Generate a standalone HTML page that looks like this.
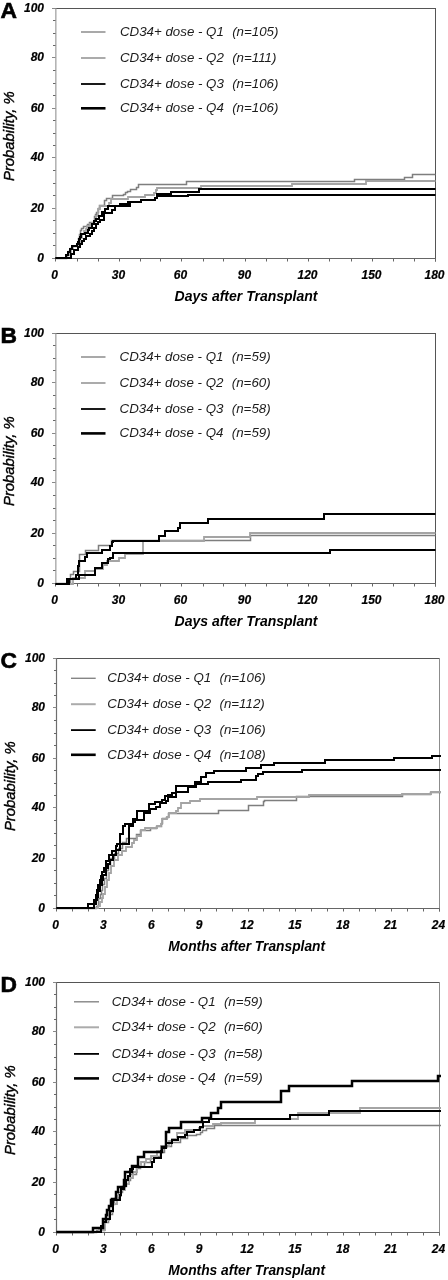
<!DOCTYPE html>
<html><head><meta charset="utf-8"><style>
html,body{margin:0;padding:0;background:#fff;width:448px;height:1280px;overflow:hidden}
svg{display:block;font-family:"Liberation Sans", sans-serif;fill:#000;filter:grayscale(1)}
text{font-family:"Liberation Sans", sans-serif}
</style></head><body>
<svg width="448" height="1280" viewBox="0 0 448 1280">
<rect width="448" height="1280" fill="#fff"/>
<g><line x1="52.0" y1="8.5" x2="435.5" y2="8.5" stroke="#555" stroke-width="1"/><line x1="435.5" y1="8.0" x2="435.5" y2="261.5" stroke="#555" stroke-width="1"/><line x1="55.8" y1="8.5" x2="55.8" y2="258.5" stroke="#b4b4b4" stroke-width="1.6"/><line x1="52.0" y1="258.5" x2="435.5" y2="258.5" stroke="#666" stroke-width="1"/><line x1="52.0" y1="258.5" x2="55.5" y2="258.5" stroke="#888" stroke-width="1"/><line x1="53.0" y1="245.5" x2="55.5" y2="245.5" stroke="#666" stroke-width="1"/><line x1="53.0" y1="233.5" x2="55.5" y2="233.5" stroke="#666" stroke-width="1"/><line x1="53.0" y1="220.5" x2="55.5" y2="220.5" stroke="#666" stroke-width="1"/><line x1="52.0" y1="208.5" x2="55.5" y2="208.5" stroke="#888" stroke-width="1"/><line x1="53.0" y1="195.5" x2="55.5" y2="195.5" stroke="#666" stroke-width="1"/><line x1="53.0" y1="183.5" x2="55.5" y2="183.5" stroke="#666" stroke-width="1"/><line x1="53.0" y1="170.5" x2="55.5" y2="170.5" stroke="#666" stroke-width="1"/><line x1="52.0" y1="157.5" x2="55.5" y2="157.5" stroke="#888" stroke-width="1"/><line x1="53.0" y1="145.5" x2="55.5" y2="145.5" stroke="#666" stroke-width="1"/><line x1="53.0" y1="133.5" x2="55.5" y2="133.5" stroke="#666" stroke-width="1"/><line x1="53.0" y1="120.5" x2="55.5" y2="120.5" stroke="#666" stroke-width="1"/><line x1="52.0" y1="108.5" x2="55.5" y2="108.5" stroke="#888" stroke-width="1"/><line x1="53.0" y1="95.5" x2="55.5" y2="95.5" stroke="#666" stroke-width="1"/><line x1="53.0" y1="83.5" x2="55.5" y2="83.5" stroke="#666" stroke-width="1"/><line x1="53.0" y1="70.5" x2="55.5" y2="70.5" stroke="#666" stroke-width="1"/><line x1="52.0" y1="57.5" x2="55.5" y2="57.5" stroke="#888" stroke-width="1"/><line x1="53.0" y1="45.5" x2="55.5" y2="45.5" stroke="#666" stroke-width="1"/><line x1="53.0" y1="33.5" x2="55.5" y2="33.5" stroke="#666" stroke-width="1"/><line x1="53.0" y1="20.5" x2="55.5" y2="20.5" stroke="#666" stroke-width="1"/><line x1="52.0" y1="8.5" x2="55.5" y2="8.5" stroke="#888" stroke-width="1"/><line x1="55.5" y1="258.5" x2="55.5" y2="261.5" stroke="#666" stroke-width="1"/><line x1="77.5" y1="258.5" x2="77.5" y2="261.5" stroke="#666" stroke-width="1"/><line x1="98.5" y1="258.5" x2="98.5" y2="261.5" stroke="#666" stroke-width="1"/><line x1="119.5" y1="258.5" x2="119.5" y2="261.5" stroke="#666" stroke-width="1"/><line x1="140.5" y1="258.5" x2="140.5" y2="261.5" stroke="#666" stroke-width="1"/><line x1="160.5" y1="258.5" x2="160.5" y2="261.5" stroke="#666" stroke-width="1"/><line x1="181.5" y1="258.5" x2="181.5" y2="261.5" stroke="#666" stroke-width="1"/><line x1="203.5" y1="258.5" x2="203.5" y2="261.5" stroke="#666" stroke-width="1"/><line x1="223.5" y1="258.5" x2="223.5" y2="261.5" stroke="#666" stroke-width="1"/><line x1="245.5" y1="258.5" x2="245.5" y2="261.5" stroke="#666" stroke-width="1"/><line x1="266.5" y1="258.5" x2="266.5" y2="261.5" stroke="#666" stroke-width="1"/><line x1="287.5" y1="258.5" x2="287.5" y2="261.5" stroke="#666" stroke-width="1"/><line x1="308.5" y1="258.5" x2="308.5" y2="261.5" stroke="#666" stroke-width="1"/><line x1="329.5" y1="258.5" x2="329.5" y2="261.5" stroke="#666" stroke-width="1"/><line x1="351.5" y1="258.5" x2="351.5" y2="261.5" stroke="#666" stroke-width="1"/><line x1="372.5" y1="258.5" x2="372.5" y2="261.5" stroke="#666" stroke-width="1"/><line x1="393.5" y1="258.5" x2="393.5" y2="261.5" stroke="#666" stroke-width="1"/><line x1="414.5" y1="258.5" x2="414.5" y2="261.5" stroke="#666" stroke-width="1"/><line x1="435.5" y1="258.5" x2="435.5" y2="261.5" stroke="#666" stroke-width="1"/><text x="44.0" y="261.5" text-anchor="end" font-size="12" font-weight="bold" font-style="italic" stroke="#000" stroke-width="0.2">0</text><text x="44.0" y="211.5" text-anchor="end" font-size="12" font-weight="bold" font-style="italic" stroke="#000" stroke-width="0.2">20</text><text x="44.0" y="161.3" text-anchor="end" font-size="12" font-weight="bold" font-style="italic" stroke="#000" stroke-width="0.2">40</text><text x="44.0" y="111.5" text-anchor="end" font-size="12" font-weight="bold" font-style="italic" stroke="#000" stroke-width="0.2">60</text><text x="44.0" y="60.6" text-anchor="end" font-size="12" font-weight="bold" font-style="italic" stroke="#000" stroke-width="0.2">80</text><text x="44.0" y="11.5" text-anchor="end" font-size="12" font-weight="bold" font-style="italic" stroke="#000" stroke-width="0.2">100</text><text x="54.5" y="278.5" text-anchor="middle" font-size="12" font-weight="bold" font-style="italic" stroke="#000" stroke-width="0.2">0</text><text x="118.5" y="278.5" text-anchor="middle" font-size="12" font-weight="bold" font-style="italic" stroke="#000" stroke-width="0.2">30</text><text x="180.5" y="278.5" text-anchor="middle" font-size="12" font-weight="bold" font-style="italic" stroke="#000" stroke-width="0.2">60</text><text x="244.5" y="278.5" text-anchor="middle" font-size="12" font-weight="bold" font-style="italic" stroke="#000" stroke-width="0.2">90</text><text x="307.5" y="278.5" text-anchor="middle" font-size="12" font-weight="bold" font-style="italic" stroke="#000" stroke-width="0.2">120</text><text x="371.5" y="278.5" text-anchor="middle" font-size="12" font-weight="bold" font-style="italic" stroke="#000" stroke-width="0.2">150</text><text x="434.5" y="278.5" text-anchor="middle" font-size="12" font-weight="bold" font-style="italic" stroke="#000" stroke-width="0.2">180</text><text x="246.0" y="300.5" text-anchor="middle" font-size="14" font-weight="bold" font-style="italic">Days after Transplant</text><text transform="translate(14.0,136.2) rotate(-90) scale(0.96,1)" x="0" y="0" text-anchor="middle" font-size="15.5" font-style="italic" stroke="#000" stroke-width="0.42">Probability, %</text><text x="0.5" y="17.5" font-size="22.8" font-weight="bold" stroke="#000" stroke-width="0.6">A</text><line x1="81" y1="32" x2="105.5" y2="32" stroke="#858585" stroke-width="1.4"/><text x="120" y="35.8" font-size="13.3" font-style="italic" fill="#1c1c1c">CD34+ dose - Q1</text><text x="232.2" y="35.8" font-size="13.3" font-style="italic" fill="#1c1c1c">(n=105)</text><line x1="81" y1="58" x2="105.5" y2="58" stroke="#ababab" stroke-width="2.0"/><text x="120" y="61.8" font-size="13.3" font-style="italic" fill="#1c1c1c">CD34+ dose - Q2</text><text x="232.2" y="61.8" font-size="13.3" font-style="italic" fill="#1c1c1c">(n=111)</text><line x1="81" y1="84" x2="105.5" y2="84" stroke="#000" stroke-width="1.8"/><text x="120" y="87.8" font-size="13.3" font-style="italic" fill="#1c1c1c">CD34+ dose - Q3</text><text x="232.2" y="87.8" font-size="13.3" font-style="italic" fill="#1c1c1c">(n=106)</text><line x1="81" y1="108.3" x2="105.5" y2="108.3" stroke="#000" stroke-width="2.6"/><text x="120" y="112.1" font-size="13.3" font-style="italic" fill="#1c1c1c">CD34+ dose - Q4</text><text x="232.2" y="112.1" font-size="13.3" font-style="italic" fill="#1c1c1c">(n=106)</text><path d="M55.5,258.5H66.5V255.5H68.5V251.5H70.5V248.5H72.5V246.5H77.5V243.5H78.5V238.5H79.5V234.5H80.5V230.5H81.5V228.5H83.5V226.5H87.5V224.5H89.5V222.5H94.5V219.5H94.5V216.5H95.5V214.5H96.5V212.5H98.5V208.5H99.5V205.5H104.5V200.5H106.5V198.5H112.5V195.5H123.5V194.5H125.5V192.5H127.5V191.5H130.5V189.5H136.5V187.5H138.5V184.5H186.5V181.5H354.5V179.5H404.5V177.5H412.5V174.5H435.5" fill="none" stroke="#7e7e7e" stroke-width="1.5" stroke-linejoin="miter" stroke-linecap="butt"/><path d="M55.5,258.0H67.0V255.0H69.0V252.0H71.0V249.0H73.0V246.0H78.0V242.0H80.0V238.0H82.0V234.0H84.0V231.0H86.0V229.0H87.0V226.0H90.0V224.0H92.0V223.0H94.0V221.0H96.0V216.0H98.0V209.0H100.0V206.0H109.0V203.0H111.0V199.0H128.0V197.0H145.0V195.0H154.0V193.0H156.0V190.0H157.0V188.0H201.0V186.0H292.0V184.0H366.0V181.0H435.5" fill="none" stroke="#a4a4a4" stroke-width="1.8" stroke-linejoin="miter" stroke-linecap="butt"/><path d="M55.5,258.0H66.0V255.0H68.0V252.0H70.0V249.0H72.0V246.0H77.0V244.0H78.0V242.0H79.0V239.0H80.0V237.0H81.0V234.0H85.0V233.0H88.0V230.0H89.0V228.0H92.0V224.0H94.0V221.0H96.0V219.0H99.0V216.0H102.0V212.0H105.0V209.0H108.0V206.0H110.0V206.0H120.0V204.0H128.0V202.0H141.0V200.0H152.0V200.0H155.0V198.0H157.0V194.0H171.0V192.0H199.0V189.0H435.5" fill="none" stroke="#000" stroke-width="2.0" stroke-linejoin="miter" stroke-linecap="butt"/><path d="M55.5,258.0H71.0V254.0H74.0V250.0H78.0V247.0H80.0V244.0H82.0V241.0H84.0V239.0H86.0V236.0H90.0V234.0H92.0V231.0H94.0V228.0H96.0V224.0H98.0V222.0H100.0V220.0H104.0V213.0H112.0V210.0H115.0V206.0H130.0V202.0H141.0V200.0H152.0V200.0H155.0V198.0H157.0V196.0H188.0V195.0H435.5" fill="none" stroke="#000" stroke-width="2.0" stroke-linejoin="miter" stroke-linecap="butt"/></g>
<g><line x1="52.0" y1="333.5" x2="435.5" y2="333.5" stroke="#555" stroke-width="1"/><line x1="435.5" y1="333.0" x2="435.5" y2="586.5" stroke="#555" stroke-width="1"/><line x1="55.8" y1="333.5" x2="55.8" y2="583.5" stroke="#b4b4b4" stroke-width="1.6"/><line x1="52.0" y1="583.5" x2="435.5" y2="583.5" stroke="#666" stroke-width="1"/><line x1="52.0" y1="583.5" x2="55.5" y2="583.5" stroke="#888" stroke-width="1"/><line x1="53.0" y1="570.5" x2="55.5" y2="570.5" stroke="#666" stroke-width="1"/><line x1="53.0" y1="558.5" x2="55.5" y2="558.5" stroke="#666" stroke-width="1"/><line x1="53.0" y1="545.5" x2="55.5" y2="545.5" stroke="#666" stroke-width="1"/><line x1="52.0" y1="533.5" x2="55.5" y2="533.5" stroke="#888" stroke-width="1"/><line x1="53.0" y1="520.5" x2="55.5" y2="520.5" stroke="#666" stroke-width="1"/><line x1="53.0" y1="508.5" x2="55.5" y2="508.5" stroke="#666" stroke-width="1"/><line x1="53.0" y1="495.5" x2="55.5" y2="495.5" stroke="#666" stroke-width="1"/><line x1="52.0" y1="482.5" x2="55.5" y2="482.5" stroke="#888" stroke-width="1"/><line x1="53.0" y1="470.5" x2="55.5" y2="470.5" stroke="#666" stroke-width="1"/><line x1="53.0" y1="458.5" x2="55.5" y2="458.5" stroke="#666" stroke-width="1"/><line x1="53.0" y1="445.5" x2="55.5" y2="445.5" stroke="#666" stroke-width="1"/><line x1="52.0" y1="433.5" x2="55.5" y2="433.5" stroke="#888" stroke-width="1"/><line x1="53.0" y1="420.5" x2="55.5" y2="420.5" stroke="#666" stroke-width="1"/><line x1="53.0" y1="408.5" x2="55.5" y2="408.5" stroke="#666" stroke-width="1"/><line x1="53.0" y1="395.5" x2="55.5" y2="395.5" stroke="#666" stroke-width="1"/><line x1="52.0" y1="382.5" x2="55.5" y2="382.5" stroke="#888" stroke-width="1"/><line x1="53.0" y1="370.5" x2="55.5" y2="370.5" stroke="#666" stroke-width="1"/><line x1="53.0" y1="358.5" x2="55.5" y2="358.5" stroke="#666" stroke-width="1"/><line x1="53.0" y1="345.5" x2="55.5" y2="345.5" stroke="#666" stroke-width="1"/><line x1="52.0" y1="333.5" x2="55.5" y2="333.5" stroke="#888" stroke-width="1"/><line x1="55.5" y1="583.5" x2="55.5" y2="586.5" stroke="#666" stroke-width="1"/><line x1="77.5" y1="583.5" x2="77.5" y2="586.5" stroke="#666" stroke-width="1"/><line x1="98.5" y1="583.5" x2="98.5" y2="586.5" stroke="#666" stroke-width="1"/><line x1="119.5" y1="583.5" x2="119.5" y2="586.5" stroke="#666" stroke-width="1"/><line x1="140.5" y1="583.5" x2="140.5" y2="586.5" stroke="#666" stroke-width="1"/><line x1="160.5" y1="583.5" x2="160.5" y2="586.5" stroke="#666" stroke-width="1"/><line x1="181.5" y1="583.5" x2="181.5" y2="586.5" stroke="#666" stroke-width="1"/><line x1="203.5" y1="583.5" x2="203.5" y2="586.5" stroke="#666" stroke-width="1"/><line x1="223.5" y1="583.5" x2="223.5" y2="586.5" stroke="#666" stroke-width="1"/><line x1="245.5" y1="583.5" x2="245.5" y2="586.5" stroke="#666" stroke-width="1"/><line x1="266.5" y1="583.5" x2="266.5" y2="586.5" stroke="#666" stroke-width="1"/><line x1="287.5" y1="583.5" x2="287.5" y2="586.5" stroke="#666" stroke-width="1"/><line x1="308.5" y1="583.5" x2="308.5" y2="586.5" stroke="#666" stroke-width="1"/><line x1="329.5" y1="583.5" x2="329.5" y2="586.5" stroke="#666" stroke-width="1"/><line x1="351.5" y1="583.5" x2="351.5" y2="586.5" stroke="#666" stroke-width="1"/><line x1="372.5" y1="583.5" x2="372.5" y2="586.5" stroke="#666" stroke-width="1"/><line x1="393.5" y1="583.5" x2="393.5" y2="586.5" stroke="#666" stroke-width="1"/><line x1="414.5" y1="583.5" x2="414.5" y2="586.5" stroke="#666" stroke-width="1"/><line x1="435.5" y1="583.5" x2="435.5" y2="586.5" stroke="#666" stroke-width="1"/><text x="44.0" y="586.5" text-anchor="end" font-size="12" font-weight="bold" font-style="italic" stroke="#000" stroke-width="0.2">0</text><text x="44.0" y="536.5" text-anchor="end" font-size="12" font-weight="bold" font-style="italic" stroke="#000" stroke-width="0.2">20</text><text x="44.0" y="486.3" text-anchor="end" font-size="12" font-weight="bold" font-style="italic" stroke="#000" stroke-width="0.2">40</text><text x="44.0" y="436.5" text-anchor="end" font-size="12" font-weight="bold" font-style="italic" stroke="#000" stroke-width="0.2">60</text><text x="44.0" y="385.6" text-anchor="end" font-size="12" font-weight="bold" font-style="italic" stroke="#000" stroke-width="0.2">80</text><text x="44.0" y="336.5" text-anchor="end" font-size="12" font-weight="bold" font-style="italic" stroke="#000" stroke-width="0.2">100</text><text x="54.5" y="603.5" text-anchor="middle" font-size="12" font-weight="bold" font-style="italic" stroke="#000" stroke-width="0.2">0</text><text x="118.5" y="603.5" text-anchor="middle" font-size="12" font-weight="bold" font-style="italic" stroke="#000" stroke-width="0.2">30</text><text x="180.5" y="603.5" text-anchor="middle" font-size="12" font-weight="bold" font-style="italic" stroke="#000" stroke-width="0.2">60</text><text x="244.5" y="603.5" text-anchor="middle" font-size="12" font-weight="bold" font-style="italic" stroke="#000" stroke-width="0.2">90</text><text x="307.5" y="603.5" text-anchor="middle" font-size="12" font-weight="bold" font-style="italic" stroke="#000" stroke-width="0.2">120</text><text x="371.5" y="603.5" text-anchor="middle" font-size="12" font-weight="bold" font-style="italic" stroke="#000" stroke-width="0.2">150</text><text x="434.5" y="603.5" text-anchor="middle" font-size="12" font-weight="bold" font-style="italic" stroke="#000" stroke-width="0.2">180</text><text x="246.0" y="625.5" text-anchor="middle" font-size="14" font-weight="bold" font-style="italic">Days after Transplant</text><text transform="translate(14.0,461.2) rotate(-90) scale(0.96,1)" x="0" y="0" text-anchor="middle" font-size="15.5" font-style="italic" stroke="#000" stroke-width="0.42">Probability, %</text><text x="0.5" y="342.5" font-size="22.8" font-weight="bold" stroke="#000" stroke-width="0.6">B</text><line x1="81" y1="357" x2="105.5" y2="357" stroke="#858585" stroke-width="1.4"/><text x="119.6" y="360.8" font-size="13.3" font-style="italic" fill="#1c1c1c">CD34+ dose - Q1</text><text x="231.8" y="360.8" font-size="13.3" font-style="italic" fill="#1c1c1c">(n=59)</text><line x1="81" y1="383" x2="105.5" y2="383" stroke="#ababab" stroke-width="2.0"/><text x="119.6" y="386.8" font-size="13.3" font-style="italic" fill="#1c1c1c">CD34+ dose - Q2</text><text x="231.8" y="386.8" font-size="13.3" font-style="italic" fill="#1c1c1c">(n=60)</text><line x1="81" y1="409" x2="105.5" y2="409" stroke="#000" stroke-width="1.8"/><text x="119.6" y="412.8" font-size="13.3" font-style="italic" fill="#1c1c1c">CD34+ dose - Q3</text><text x="231.8" y="412.8" font-size="13.3" font-style="italic" fill="#1c1c1c">(n=58)</text><line x1="81" y1="433.4" x2="105.5" y2="433.4" stroke="#000" stroke-width="2.6"/><text x="119.6" y="437.2" font-size="13.3" font-style="italic" fill="#1c1c1c">CD34+ dose - Q4</text><text x="231.8" y="437.2" font-size="13.3" font-style="italic" fill="#1c1c1c">(n=59)</text><path d="M55.5,583.5H70.5V574.5H73.5V571.5H79.5V554.5H85.5V550.5H98.5V545.5H111.5V540.5H250.5V535.5H435.5" fill="none" stroke="#7e7e7e" stroke-width="1.5" stroke-linejoin="miter" stroke-linecap="butt"/><path d="M55.5,584.0H73.0V578.0H85.0V571.0H95.0V569.0H103.0V565.0H107.0V561.0H119.0V558.0H125.0V554.0H143.0V541.0H204.0V537.0H250.0V533.0H435.5" fill="none" stroke="#a4a4a4" stroke-width="1.8" stroke-linejoin="miter" stroke-linecap="butt"/><path d="M55.5,584.0H69.0V579.0H79.0V575.0H95.0V568.0H102.0V563.0H108.0V559.0H110.0V558.0H113.0V553.0H330.0V550.0H435.5" fill="none" stroke="#000" stroke-width="2.0" stroke-linejoin="miter" stroke-linecap="butt"/><path d="M55.5,584.0H67.0V579.0H76.0V575.0H78.0V566.0H79.0V561.0H85.0V557.0H87.0V553.0H102.0V550.0H110.0V546.0H112.0V542.0H113.0V541.0H159.0V536.0H165.0V531.0H178.0V528.0H180.0V523.0H208.0V519.0H324.0V514.0H435.5" fill="none" stroke="#000" stroke-width="2.0" stroke-linejoin="miter" stroke-linecap="butt"/></g>
<g><line x1="53.0" y1="658.5" x2="439.5" y2="658.5" stroke="#555" stroke-width="1"/><line x1="439.5" y1="658.0" x2="439.5" y2="911.5" stroke="#8c8c8c" stroke-width="1"/><line x1="56.5" y1="658.5" x2="56.5" y2="908.5" stroke="#6e6e6e" stroke-width="1.2"/><line x1="53.0" y1="908.5" x2="439.5" y2="908.5" stroke="#666" stroke-width="1"/><line x1="53.0" y1="908.5" x2="56.5" y2="908.5" stroke="#888" stroke-width="1"/><line x1="54.0" y1="895.5" x2="56.5" y2="895.5" stroke="#666" stroke-width="1"/><line x1="54.0" y1="883.5" x2="56.5" y2="883.5" stroke="#666" stroke-width="1"/><line x1="54.0" y1="870.5" x2="56.5" y2="870.5" stroke="#666" stroke-width="1"/><line x1="53.0" y1="858.5" x2="56.5" y2="858.5" stroke="#888" stroke-width="1"/><line x1="54.0" y1="845.5" x2="56.5" y2="845.5" stroke="#666" stroke-width="1"/><line x1="54.0" y1="833.5" x2="56.5" y2="833.5" stroke="#666" stroke-width="1"/><line x1="54.0" y1="820.5" x2="56.5" y2="820.5" stroke="#666" stroke-width="1"/><line x1="53.0" y1="807.5" x2="56.5" y2="807.5" stroke="#888" stroke-width="1"/><line x1="54.0" y1="795.5" x2="56.5" y2="795.5" stroke="#666" stroke-width="1"/><line x1="54.0" y1="783.5" x2="56.5" y2="783.5" stroke="#666" stroke-width="1"/><line x1="54.0" y1="770.5" x2="56.5" y2="770.5" stroke="#666" stroke-width="1"/><line x1="53.0" y1="758.5" x2="56.5" y2="758.5" stroke="#888" stroke-width="1"/><line x1="54.0" y1="745.5" x2="56.5" y2="745.5" stroke="#666" stroke-width="1"/><line x1="54.0" y1="733.5" x2="56.5" y2="733.5" stroke="#666" stroke-width="1"/><line x1="54.0" y1="720.5" x2="56.5" y2="720.5" stroke="#666" stroke-width="1"/><line x1="53.0" y1="707.5" x2="56.5" y2="707.5" stroke="#888" stroke-width="1"/><line x1="54.0" y1="695.5" x2="56.5" y2="695.5" stroke="#666" stroke-width="1"/><line x1="54.0" y1="683.5" x2="56.5" y2="683.5" stroke="#666" stroke-width="1"/><line x1="54.0" y1="670.5" x2="56.5" y2="670.5" stroke="#666" stroke-width="1"/><line x1="53.0" y1="658.5" x2="56.5" y2="658.5" stroke="#888" stroke-width="1"/><line x1="56.5" y1="908.5" x2="56.5" y2="911.5" stroke="#666" stroke-width="1"/><line x1="72.5" y1="908.5" x2="72.5" y2="911.5" stroke="#666" stroke-width="1"/><line x1="88.5" y1="908.5" x2="88.5" y2="911.5" stroke="#666" stroke-width="1"/><line x1="104.5" y1="908.5" x2="104.5" y2="911.5" stroke="#666" stroke-width="1"/><line x1="120.5" y1="908.5" x2="120.5" y2="911.5" stroke="#666" stroke-width="1"/><line x1="136.5" y1="908.5" x2="136.5" y2="911.5" stroke="#666" stroke-width="1"/><line x1="152.5" y1="908.5" x2="152.5" y2="911.5" stroke="#666" stroke-width="1"/><line x1="168.5" y1="908.5" x2="168.5" y2="911.5" stroke="#666" stroke-width="1"/><line x1="184.5" y1="908.5" x2="184.5" y2="911.5" stroke="#666" stroke-width="1"/><line x1="200.5" y1="908.5" x2="200.5" y2="911.5" stroke="#666" stroke-width="1"/><line x1="216.5" y1="908.5" x2="216.5" y2="911.5" stroke="#666" stroke-width="1"/><line x1="232.5" y1="908.5" x2="232.5" y2="911.5" stroke="#666" stroke-width="1"/><line x1="248.5" y1="908.5" x2="248.5" y2="911.5" stroke="#666" stroke-width="1"/><line x1="263.5" y1="908.5" x2="263.5" y2="911.5" stroke="#666" stroke-width="1"/><line x1="279.5" y1="908.5" x2="279.5" y2="911.5" stroke="#666" stroke-width="1"/><line x1="295.5" y1="908.5" x2="295.5" y2="911.5" stroke="#666" stroke-width="1"/><line x1="311.5" y1="908.5" x2="311.5" y2="911.5" stroke="#666" stroke-width="1"/><line x1="327.5" y1="908.5" x2="327.5" y2="911.5" stroke="#666" stroke-width="1"/><line x1="343.5" y1="908.5" x2="343.5" y2="911.5" stroke="#666" stroke-width="1"/><line x1="359.5" y1="908.5" x2="359.5" y2="911.5" stroke="#666" stroke-width="1"/><line x1="375.5" y1="908.5" x2="375.5" y2="911.5" stroke="#666" stroke-width="1"/><line x1="391.5" y1="908.5" x2="391.5" y2="911.5" stroke="#666" stroke-width="1"/><line x1="407.5" y1="908.5" x2="407.5" y2="911.5" stroke="#666" stroke-width="1"/><line x1="423.5" y1="908.5" x2="423.5" y2="911.5" stroke="#666" stroke-width="1"/><line x1="439.5" y1="908.5" x2="439.5" y2="911.5" stroke="#666" stroke-width="1"/><text x="45.0" y="911.5" text-anchor="end" font-size="12" font-weight="bold" font-style="italic" stroke="#000" stroke-width="0.2">0</text><text x="45.0" y="861.5" text-anchor="end" font-size="12" font-weight="bold" font-style="italic" stroke="#000" stroke-width="0.2">20</text><text x="45.0" y="811.3" text-anchor="end" font-size="12" font-weight="bold" font-style="italic" stroke="#000" stroke-width="0.2">40</text><text x="45.0" y="761.5" text-anchor="end" font-size="12" font-weight="bold" font-style="italic" stroke="#000" stroke-width="0.2">60</text><text x="45.0" y="710.6" text-anchor="end" font-size="12" font-weight="bold" font-style="italic" stroke="#000" stroke-width="0.2">80</text><text x="45.0" y="661.5" text-anchor="end" font-size="12" font-weight="bold" font-style="italic" stroke="#000" stroke-width="0.2">100</text><text x="55.5" y="928.5" text-anchor="middle" font-size="12" font-weight="bold" font-style="italic" stroke="#000" stroke-width="0.2">0</text><text x="103.375" y="928.5" text-anchor="middle" font-size="12" font-weight="bold" font-style="italic" stroke="#000" stroke-width="0.2">3</text><text x="151.25" y="928.5" text-anchor="middle" font-size="12" font-weight="bold" font-style="italic" stroke="#000" stroke-width="0.2">6</text><text x="199.125" y="928.5" text-anchor="middle" font-size="12" font-weight="bold" font-style="italic" stroke="#000" stroke-width="0.2">9</text><text x="247.0" y="928.5" text-anchor="middle" font-size="12" font-weight="bold" font-style="italic" stroke="#000" stroke-width="0.2">12</text><text x="294.875" y="928.5" text-anchor="middle" font-size="12" font-weight="bold" font-style="italic" stroke="#000" stroke-width="0.2">15</text><text x="342.75" y="928.5" text-anchor="middle" font-size="12" font-weight="bold" font-style="italic" stroke="#000" stroke-width="0.2">18</text><text x="390.625" y="928.5" text-anchor="middle" font-size="12" font-weight="bold" font-style="italic" stroke="#000" stroke-width="0.2">21</text><text x="438.5" y="928.5" text-anchor="middle" font-size="12" font-weight="bold" font-style="italic" stroke="#000" stroke-width="0.2">24</text><text x="246.7" y="950.5" text-anchor="middle" font-size="13.8" font-weight="bold" font-style="italic">Months after Transplant</text><text transform="translate(14.6,786.2) rotate(-90) scale(0.96,1)" x="0" y="0" text-anchor="middle" font-size="15.5" font-style="italic" stroke="#000" stroke-width="0.42">Probability, %</text><text x="0.5" y="667.5" font-size="22.8" font-weight="bold" stroke="#000" stroke-width="0.6">C</text><line x1="71" y1="678.3" x2="95.7" y2="678.3" stroke="#858585" stroke-width="1.4"/><text x="107.3" y="682.0999999999999" font-size="13.3" font-style="italic" fill="#1c1c1c">CD34+ dose - Q1</text><text x="219.5" y="682.0999999999999" font-size="13.3" font-style="italic" fill="#1c1c1c">(n=106)</text><line x1="71" y1="704.2" x2="95.7" y2="704.2" stroke="#ababab" stroke-width="2.0"/><text x="107.3" y="708.0" font-size="13.3" font-style="italic" fill="#1c1c1c">CD34+ dose - Q2</text><text x="219.5" y="708.0" font-size="13.3" font-style="italic" fill="#1c1c1c">(n=112)</text><line x1="71" y1="730.1" x2="95.7" y2="730.1" stroke="#000" stroke-width="1.8"/><text x="107.3" y="733.9" font-size="13.3" font-style="italic" fill="#1c1c1c">CD34+ dose - Q3</text><text x="219.5" y="733.9" font-size="13.3" font-style="italic" fill="#1c1c1c">(n=106)</text><line x1="71" y1="754.8" x2="95.7" y2="754.8" stroke="#000" stroke-width="2.6"/><text x="107.3" y="758.5999999999999" font-size="13.3" font-style="italic" fill="#1c1c1c">CD34+ dose - Q4</text><text x="219.5" y="758.5999999999999" font-size="13.3" font-style="italic" fill="#1c1c1c">(n=108)</text><path d="M56.5,908.5H96.5V906.5H98.5V902.5H98.5V898.5H100.5V894.5H101.5V890.5H102.5V884.5H104.5V878.5H106.5V870.5H108.5V864.5H110.5V858.5H114.5V853.5H118.5V848.5H122.5V842.5H126.5V838.5H136.5V834.5H140.5V830.5H150.5V828.5H156.5V826.5H161.5V823.5H162.5V818.5H166.5V817.5H168.5V813.5H218.5V810.5H248.5V805.5H263.5V801.5H264.5V800.5H296.5V796.5H402.5V794.5H430.5V792.5H441.0" fill="none" stroke="#7e7e7e" stroke-width="1.5" stroke-linejoin="miter" stroke-linecap="butt"/><path d="M56.5,908.0H98.0V906.0H100.0V902.0H102.0V898.0H103.0V894.0H105.0V887.0H107.0V880.0H109.0V873.0H111.0V866.0H114.0V860.0H118.0V855.0H122.0V851.0H126.0V847.0H132.0V843.0H134.0V840.0H137.0V836.0H141.0V830.0H145.0V828.0H157.0V826.0H161.0V824.0H162.0V819.0H167.0V817.0H169.0V813.0H176.0V811.0H178.0V808.0H181.0V803.0H190.0V801.0H200.0V799.0H257.0V797.0H309.0V795.0H402.0V794.0H431.0V792.0H441.0" fill="none" stroke="#a4a4a4" stroke-width="1.8" stroke-linejoin="miter" stroke-linecap="butt"/><path d="M56.5,908.0H94.0V904.0H96.0V900.0H97.0V897.0H98.0V891.0H100.0V885.0H102.0V880.0H103.0V875.0H106.0V868.0H108.0V864.0H110.0V860.0H113.0V855.0H116.0V850.0H120.0V844.0H129.0V830.0H129.0V826.0H133.0V822.0H135.0V820.0H144.0V813.0H150.0V809.0H156.0V807.0H160.0V803.0H166.0V801.0H168.0V797.0H176.0V792.0H188.0V787.0H196.0V784.0H208.0V782.0H241.0V780.0H256.0V776.0H258.0V774.0H263.0V772.0H302.0V770.0H441.0" fill="none" stroke="#000" stroke-width="2.0" stroke-linejoin="miter" stroke-linecap="butt"/><path d="M56.5,908.0H88.0V904.0H94.0V900.0H96.0V895.0H97.0V890.0H98.0V885.0H100.0V880.0H101.0V876.0H102.0V872.0H104.0V868.0H106.0V861.0H109.0V855.0H112.0V851.0H116.0V846.0H117.0V844.0H120.0V834.0H123.0V826.0H125.0V824.0H133.0V819.0H137.0V811.0H149.0V804.0H155.0V802.0H162.0V800.0H165.0V796.0H168.0V795.0H172.0V793.0H176.0V786.0H195.0V782.0H201.0V777.0H206.0V773.0H214.0V771.0H246.0V768.0H261.0V765.0H274.0V763.0H325.0V760.0H394.0V758.0H432.0V756.0H441.0" fill="none" stroke="#000" stroke-width="2.0" stroke-linejoin="miter" stroke-linecap="butt"/></g>
<g><line x1="53.0" y1="982.5" x2="439.5" y2="982.5" stroke="#555" stroke-width="1"/><line x1="439.5" y1="982.0" x2="439.5" y2="1235.5" stroke="#8c8c8c" stroke-width="1"/><line x1="56.5" y1="982.5" x2="56.5" y2="1232.5" stroke="#6e6e6e" stroke-width="1.2"/><line x1="53.0" y1="1232.5" x2="439.5" y2="1232.5" stroke="#666" stroke-width="1"/><line x1="53.0" y1="1232.5" x2="56.5" y2="1232.5" stroke="#888" stroke-width="1"/><line x1="54.0" y1="1219.5" x2="56.5" y2="1219.5" stroke="#666" stroke-width="1"/><line x1="54.0" y1="1207.5" x2="56.5" y2="1207.5" stroke="#666" stroke-width="1"/><line x1="54.0" y1="1194.5" x2="56.5" y2="1194.5" stroke="#666" stroke-width="1"/><line x1="53.0" y1="1182.5" x2="56.5" y2="1182.5" stroke="#888" stroke-width="1"/><line x1="54.0" y1="1169.5" x2="56.5" y2="1169.5" stroke="#666" stroke-width="1"/><line x1="54.0" y1="1157.5" x2="56.5" y2="1157.5" stroke="#666" stroke-width="1"/><line x1="54.0" y1="1144.5" x2="56.5" y2="1144.5" stroke="#666" stroke-width="1"/><line x1="53.0" y1="1131.5" x2="56.5" y2="1131.5" stroke="#888" stroke-width="1"/><line x1="54.0" y1="1119.5" x2="56.5" y2="1119.5" stroke="#666" stroke-width="1"/><line x1="54.0" y1="1107.5" x2="56.5" y2="1107.5" stroke="#666" stroke-width="1"/><line x1="54.0" y1="1094.5" x2="56.5" y2="1094.5" stroke="#666" stroke-width="1"/><line x1="53.0" y1="1082.5" x2="56.5" y2="1082.5" stroke="#888" stroke-width="1"/><line x1="54.0" y1="1069.5" x2="56.5" y2="1069.5" stroke="#666" stroke-width="1"/><line x1="54.0" y1="1057.5" x2="56.5" y2="1057.5" stroke="#666" stroke-width="1"/><line x1="54.0" y1="1044.5" x2="56.5" y2="1044.5" stroke="#666" stroke-width="1"/><line x1="53.0" y1="1031.5" x2="56.5" y2="1031.5" stroke="#888" stroke-width="1"/><line x1="54.0" y1="1019.5" x2="56.5" y2="1019.5" stroke="#666" stroke-width="1"/><line x1="54.0" y1="1007.5" x2="56.5" y2="1007.5" stroke="#666" stroke-width="1"/><line x1="54.0" y1="994.5" x2="56.5" y2="994.5" stroke="#666" stroke-width="1"/><line x1="53.0" y1="982.5" x2="56.5" y2="982.5" stroke="#888" stroke-width="1"/><line x1="56.5" y1="1232.5" x2="56.5" y2="1235.5" stroke="#666" stroke-width="1"/><line x1="72.5" y1="1232.5" x2="72.5" y2="1235.5" stroke="#666" stroke-width="1"/><line x1="88.5" y1="1232.5" x2="88.5" y2="1235.5" stroke="#666" stroke-width="1"/><line x1="104.5" y1="1232.5" x2="104.5" y2="1235.5" stroke="#666" stroke-width="1"/><line x1="120.5" y1="1232.5" x2="120.5" y2="1235.5" stroke="#666" stroke-width="1"/><line x1="136.5" y1="1232.5" x2="136.5" y2="1235.5" stroke="#666" stroke-width="1"/><line x1="152.5" y1="1232.5" x2="152.5" y2="1235.5" stroke="#666" stroke-width="1"/><line x1="168.5" y1="1232.5" x2="168.5" y2="1235.5" stroke="#666" stroke-width="1"/><line x1="184.5" y1="1232.5" x2="184.5" y2="1235.5" stroke="#666" stroke-width="1"/><line x1="200.5" y1="1232.5" x2="200.5" y2="1235.5" stroke="#666" stroke-width="1"/><line x1="216.5" y1="1232.5" x2="216.5" y2="1235.5" stroke="#666" stroke-width="1"/><line x1="232.5" y1="1232.5" x2="232.5" y2="1235.5" stroke="#666" stroke-width="1"/><line x1="248.5" y1="1232.5" x2="248.5" y2="1235.5" stroke="#666" stroke-width="1"/><line x1="263.5" y1="1232.5" x2="263.5" y2="1235.5" stroke="#666" stroke-width="1"/><line x1="279.5" y1="1232.5" x2="279.5" y2="1235.5" stroke="#666" stroke-width="1"/><line x1="295.5" y1="1232.5" x2="295.5" y2="1235.5" stroke="#666" stroke-width="1"/><line x1="311.5" y1="1232.5" x2="311.5" y2="1235.5" stroke="#666" stroke-width="1"/><line x1="327.5" y1="1232.5" x2="327.5" y2="1235.5" stroke="#666" stroke-width="1"/><line x1="343.5" y1="1232.5" x2="343.5" y2="1235.5" stroke="#666" stroke-width="1"/><line x1="359.5" y1="1232.5" x2="359.5" y2="1235.5" stroke="#666" stroke-width="1"/><line x1="375.5" y1="1232.5" x2="375.5" y2="1235.5" stroke="#666" stroke-width="1"/><line x1="391.5" y1="1232.5" x2="391.5" y2="1235.5" stroke="#666" stroke-width="1"/><line x1="407.5" y1="1232.5" x2="407.5" y2="1235.5" stroke="#666" stroke-width="1"/><line x1="423.5" y1="1232.5" x2="423.5" y2="1235.5" stroke="#666" stroke-width="1"/><line x1="439.5" y1="1232.5" x2="439.5" y2="1235.5" stroke="#666" stroke-width="1"/><text x="45.0" y="1235.5" text-anchor="end" font-size="12" font-weight="bold" font-style="italic" stroke="#000" stroke-width="0.2">0</text><text x="45.0" y="1185.5" text-anchor="end" font-size="12" font-weight="bold" font-style="italic" stroke="#000" stroke-width="0.2">20</text><text x="45.0" y="1135.3" text-anchor="end" font-size="12" font-weight="bold" font-style="italic" stroke="#000" stroke-width="0.2">40</text><text x="45.0" y="1085.5" text-anchor="end" font-size="12" font-weight="bold" font-style="italic" stroke="#000" stroke-width="0.2">60</text><text x="45.0" y="1034.6" text-anchor="end" font-size="12" font-weight="bold" font-style="italic" stroke="#000" stroke-width="0.2">80</text><text x="45.0" y="985.5" text-anchor="end" font-size="12" font-weight="bold" font-style="italic" stroke="#000" stroke-width="0.2">100</text><text x="55.5" y="1252.5" text-anchor="middle" font-size="12" font-weight="bold" font-style="italic" stroke="#000" stroke-width="0.2">0</text><text x="103.375" y="1252.5" text-anchor="middle" font-size="12" font-weight="bold" font-style="italic" stroke="#000" stroke-width="0.2">3</text><text x="151.25" y="1252.5" text-anchor="middle" font-size="12" font-weight="bold" font-style="italic" stroke="#000" stroke-width="0.2">6</text><text x="199.125" y="1252.5" text-anchor="middle" font-size="12" font-weight="bold" font-style="italic" stroke="#000" stroke-width="0.2">9</text><text x="247.0" y="1252.5" text-anchor="middle" font-size="12" font-weight="bold" font-style="italic" stroke="#000" stroke-width="0.2">12</text><text x="294.875" y="1252.5" text-anchor="middle" font-size="12" font-weight="bold" font-style="italic" stroke="#000" stroke-width="0.2">15</text><text x="342.75" y="1252.5" text-anchor="middle" font-size="12" font-weight="bold" font-style="italic" stroke="#000" stroke-width="0.2">18</text><text x="390.625" y="1252.5" text-anchor="middle" font-size="12" font-weight="bold" font-style="italic" stroke="#000" stroke-width="0.2">21</text><text x="438.5" y="1252.5" text-anchor="middle" font-size="12" font-weight="bold" font-style="italic" stroke="#000" stroke-width="0.2">24</text><text x="246.7" y="1274.5" text-anchor="middle" font-size="13.8" font-weight="bold" font-style="italic">Months after Transplant</text><text transform="translate(14.6,1110.2) rotate(-90) scale(0.96,1)" x="0" y="0" text-anchor="middle" font-size="15.5" font-style="italic" stroke="#000" stroke-width="0.42">Probability, %</text><text x="0.5" y="991.5" font-size="22.8" font-weight="bold" stroke="#000" stroke-width="0.6">D</text><line x1="74" y1="1001.8" x2="99" y2="1001.8" stroke="#858585" stroke-width="1.4"/><text x="111.7" y="1005.5999999999999" font-size="13.3" font-style="italic" fill="#1c1c1c">CD34+ dose - Q1</text><text x="223.9" y="1005.5999999999999" font-size="13.3" font-style="italic" fill="#1c1c1c">(n=59)</text><line x1="74" y1="1027.3" x2="99" y2="1027.3" stroke="#ababab" stroke-width="2.0"/><text x="111.7" y="1031.1" font-size="13.3" font-style="italic" fill="#1c1c1c">CD34+ dose - Q2</text><text x="223.9" y="1031.1" font-size="13.3" font-style="italic" fill="#1c1c1c">(n=60)</text><line x1="74" y1="1053.9" x2="99" y2="1053.9" stroke="#000" stroke-width="1.8"/><text x="111.7" y="1057.7" font-size="13.3" font-style="italic" fill="#1c1c1c">CD34+ dose - Q3</text><text x="223.9" y="1057.7" font-size="13.3" font-style="italic" fill="#1c1c1c">(n=58)</text><line x1="74" y1="1078.4" x2="99" y2="1078.4" stroke="#000" stroke-width="2.6"/><text x="111.7" y="1082.2" font-size="13.3" font-style="italic" fill="#1c1c1c">CD34+ dose - Q4</text><text x="223.9" y="1082.2" font-size="13.3" font-style="italic" fill="#1c1c1c">(n=59)</text><path d="M56.5,1232.5H96.5V1230.5H104.5V1222.5H108.5V1214.5H112.5V1204.5H114.5V1198.5H118.5V1192.5H122.5V1186.5H126.5V1180.5H130.5V1174.5H136.5V1168.5H140.5V1166.5H144.5V1162.5H150.5V1158.5H154.5V1156.5H160.5V1152.5H164.5V1146.5H171.5V1142.5H180.5V1138.5H187.5V1135.5H196.5V1134.5H200.5V1132.5H202.5V1130.5H206.5V1128.5H214.5V1125.5H441.0" fill="none" stroke="#7e7e7e" stroke-width="1.5" stroke-linejoin="miter" stroke-linecap="butt"/><path d="M56.5,1232.0H99.0V1230.0H105.0V1220.0H109.0V1212.0H113.0V1204.0H117.0V1196.0H121.0V1190.0H125.0V1184.0H129.0V1178.0H133.0V1172.0H137.0V1166.0H141.0V1162.0H146.0V1159.0H151.0V1156.0H157.0V1151.0H161.0V1146.0H169.0V1141.0H172.0V1139.0H177.0V1133.0H185.0V1130.0H199.0V1128.0H203.0V1126.0H213.0V1124.0H221.0V1123.0H255.0V1119.0H298.0V1113.0H360.0V1108.0H441.0" fill="none" stroke="#a4a4a4" stroke-width="1.8" stroke-linejoin="miter" stroke-linecap="butt"/><path d="M56.5,1232.0H101.0V1226.0H103.0V1222.0H106.0V1219.0H110.0V1211.0H113.0V1200.0H120.0V1195.0H121.0V1189.0H124.0V1186.0H126.0V1180.0H128.0V1176.0H130.0V1169.0H133.0V1167.0H152.0V1162.0H154.0V1158.0H161.0V1151.0H162.0V1148.0H166.0V1143.0H172.0V1140.0H178.0V1137.0H185.0V1135.0H187.0V1132.0H194.0V1130.0H200.0V1127.0H203.0V1122.0H209.0V1119.0H290.0V1115.0H329.0V1111.0H441.0" fill="none" stroke="#000" stroke-width="2.0" stroke-linejoin="miter" stroke-linecap="butt"/><path d="M56.5,1232.0H93.0V1228.0H103.0V1219.0H106.0V1215.0H107.0V1210.0H109.0V1206.0H111.0V1200.0H112.0V1199.0H116.0V1192.0H118.0V1187.0H124.0V1180.0H125.0V1172.0H132.0V1166.0H138.0V1157.0H144.0V1152.0H162.0V1147.0H166.0V1132.0H169.0V1128.0H181.0V1122.0H202.0V1118.0H211.0V1113.0H218.0V1108.0H221.0V1102.0H281.0V1091.0H289.0V1086.0H352.0V1081.0H438.0V1076.0H441.0" fill="none" stroke="#000" stroke-width="2.5" stroke-linejoin="miter" stroke-linecap="butt"/></g>
</svg>
</body></html>
